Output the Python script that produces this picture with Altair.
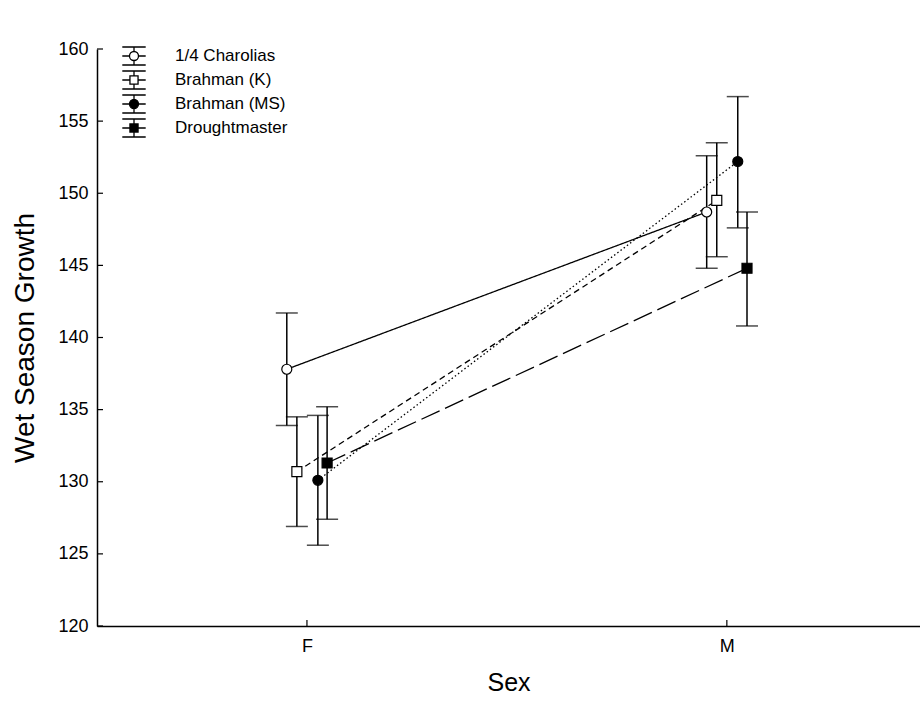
import altair as alt
import pandas as pd

series = ["1/4 Charolias", "Brahman (K)", "Brahman (MS)", "Droughtmaster"]
sexes = ["F", "M"]
offsets = [-0.048, -0.024, 0.026, 0.048]
means_F = [137.8, 130.7, 130.1, 131.3]
means_M = [148.7, 149.5, 152.2, 144.8]
lo_F = [133.9, 126.9, 125.6, 127.4]
hi_F = [141.7, 134.5, 134.6, 135.2]
lo_M = [144.8, 145.6, 147.6, 140.8]
hi_M = [152.6, 153.5, 156.7, 148.7]
y_ticks = [120, 125, 130, 135, 140, 145, 150, 155, 160]

rows = []
for i, s in enumerate(series):
    for j, sx in enumerate(sexes):
        m = means_F[i] if sx == "F" else means_M[i]
        lo = lo_F[i] if sx == "F" else lo_M[i]
        hi = hi_F[i] if sx == "F" else hi_M[i]
        rows.append({"series": s, "key": s, "sex": sx, "xpos": j + offsets[i],
                     "mean": m, "lo": lo, "hi": hi})
df = pd.DataFrame(rows)

FONT = "Liberation Sans"
xscale = alt.Scale(domain=[-0.5, 1.46], nice=False, zero=False)
yscale = alt.Scale(domain=[120, 160], nice=False, zero=False)

X = alt.X("xpos:Q", scale=xscale,
          axis=alt.Axis(values=[0, 1], labelExpr="datum.value == 0 ? 'F' : 'M'",
                        title="Sex", grid=False, tickSize=0, labelPadding=11,
                        labelFontSize=18, titleFontSize=25, titlePadding=15,
                        domainColor="black", domainWidth=1.5, labelColor="black",
                        titleColor="black", labelFont=FONT, titleFont=FONT,
                        titleFontWeight="normal"))
Y = alt.Y("mean:Q", scale=yscale,
          axis=alt.Axis(values=y_ticks, title="Wet Season Growth", grid=False, tickSize=0,
                        labelPadding=9, labelFontSize=18, titleFontSize=28, titlePadding=18,
                        domainColor="black", domainWidth=1.5, labelColor="black",
                        titleColor="black", labelFont=FONT, titleFont=FONT,
                        titleFontWeight="normal"))

dash_range = [[1, 0], [6, 4], [1.5, 2.5], [20, 6]]
fill_range = ["white", "white", "black", "black"]

circ_glyph = ("M-1.3,-1H1.3M-1.3,1H1.3M0,-1V-0.5M0,0.5V1M-1.3,0H-0.5M0.5,0H1.3"
              "M0.5,0A0.5,0.5 0 1,1 -0.5,0A0.5,0.5 0 1,1 0.5,0Z")
sq_glyph = ("M-1.3,-1H1.3M-1.3,1H1.3M0,-1V-0.45M0,0.45V1M-1.3,0H-0.45M0.45,0H1.3"
            "M-0.45,-0.45H0.45V0.45H-0.45Z")
glyph_range = [circ_glyph, sq_glyph, circ_glyph, sq_glyph]

legend = alt.Legend(title=None, orient="none", legendX=27, legendY=-3,
                    labelFontSize=17, labelFont=FONT, labelColor="black",
                    symbolSize=324, symbolStrokeWidth=1.3, symbolStrokeColor="black",
                    symbolOpacity=1, labelOffset=31, rowPadding=0, padding=0)

base = alt.Chart(df)

lines = base.mark_line(color="black", strokeWidth=1.3).encode(
    x=X, y=Y, detail="series:N",
    strokeDash=alt.StrokeDash("series:N", scale=alt.Scale(domain=series, range=dash_range), legend=None),
)

bars = base.mark_rule(color="black", strokeWidth=1.5).encode(
    x="xpos:Q", y="lo:Q", y2="hi:Q")
cap_lo = base.mark_tick(color="black", orient="horizontal", size=22, thickness=1.5).encode(
    x="xpos:Q", y="lo:Q")
cap_hi = base.mark_tick(color="black", orient="horizontal", size=22, thickness=1.5).encode(
    x="xpos:Q", y="hi:Q")

pts = base.mark_point(filled=False, opacity=1, strokeWidth=1.2, stroke="black", size=100).encode(
    x="xpos:Q", y="mean:Q",
    shape=alt.Shape("series:N", scale=alt.Scale(domain=series, range=["circle", "square", "circle", "square"]), legend=None),
    fill=alt.Fill("series:N", scale=alt.Scale(domain=series, range=fill_range), legend=None),
)

leg = base.mark_point(opacity=0, size=324, strokeWidth=1.3).encode(
    x="xpos:Q", y="mean:Q",
    shape=alt.Shape("key:N", scale=alt.Scale(domain=series, range=glyph_range), legend=legend),
    fill=alt.Fill("key:N", scale=alt.Scale(domain=series, range=fill_range), legend=legend),
    stroke=alt.Stroke("key:N", scale=alt.Scale(domain=series, range=["black"] * 4), legend=legend),
)

ytick_df = pd.DataFrame({"t": y_ticks})
yticks = alt.Chart(ytick_df).mark_rule(color="black", strokeWidth=1.2).encode(
    y=alt.Y("t:Q", scale=yscale), x=alt.value(0), x2=alt.value(6))
xtick_df = pd.DataFrame({"t": [0, 1]})
xticks = alt.Chart(xtick_df).mark_rule(color="black", strokeWidth=1.2).encode(
    x=alt.X("t:Q", scale=xscale), y=alt.value(577), y2=alt.value(571))

chart = alt.layer(lines, bars, cap_lo, cap_hi, pts, leg, yticks, xticks).resolve_scale(
    shape="independent", fill="independent", stroke="independent"
).properties(
    width=823, height=577,
    padding={"left": 97, "top": 49, "right": 0, "bottom": 76},
    autosize=alt.AutoSizeParams(type="none"),
).configure(background="white").configure_view(stroke=None)

chart.save("out.html", embed_options={"renderer": "svg", "actions": False})
